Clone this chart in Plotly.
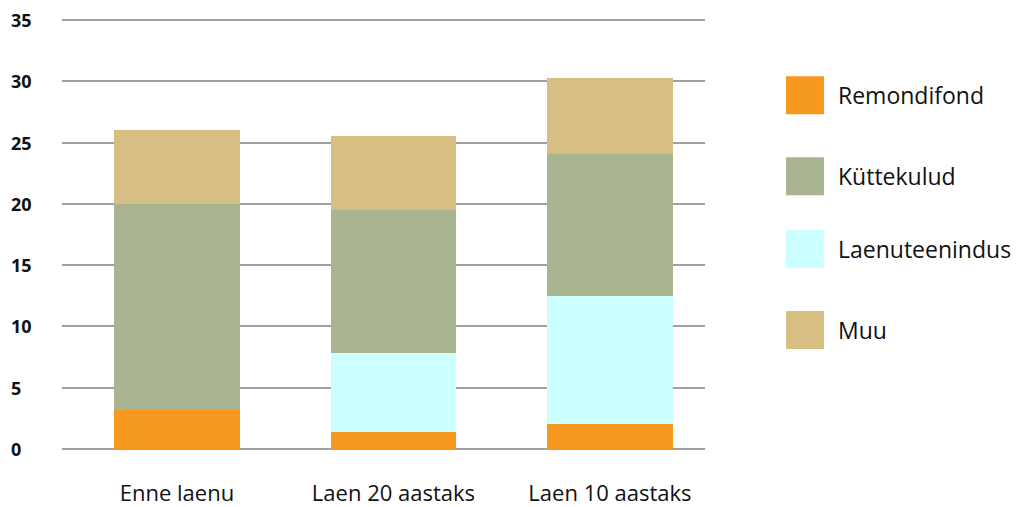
import plotly.graph_objects as go

categories = ["Enne laenu", "Laen 20 aastaks", "Laen 10 aastaks"]
remondifond = [3.2, 1.4, 2.0]
laenuteenindus = [0.0, 6.4, 10.5]
kuttekulud = [16.8, 11.7, 11.6]
muu = [6.0, 6.0, 6.2]

stack_order = [
    ("Remondifond", remondifond, "#F7991F"),
    ("Laenuteenindus", laenuteenindus, "#CCFFFF"),
    ("Küttekulud", kuttekulud, "#A9B491"),
    ("Muu", muu, "#D7BF84"),
]
legend_order = ["Remondifond", "Küttekulud", "Laenuteenindus", "Muu"]
y_ticks = [0, 5, 10, 15, 20, 25, 30, 35]

FONT = "Open Sans, Lato, sans-serif"

fig = go.Figure()
for name, vals, color in stack_order:
    fig.add_trace(go.Bar(
        x=list(range(len(categories))), y=vals, name=name,
        marker=dict(color=color, line=dict(width=0)),
        width=0.58, showlegend=False,
    ))

# Legend drawn as large swatches (plot area is 431 px tall, starting at y=18)
colors = {n: c for n, _, c in stack_order}
legend_y = [0.821, 0.633, 0.464, 0.276]  # paper fractions of swatch centers
for name, yc in zip(legend_order, legend_y):
    fig.add_shape(type="rect", xref="paper", yref="paper",
                  x0=1.126, x1=1.185, y0=yc - 0.0441, y1=yc + 0.0441,
                  fillcolor=colors[name], line=dict(width=0))
    fig.add_annotation(xref="paper", yref="paper", x=1.204, y=yc,
                       text=name, showarrow=False, xanchor="left", yanchor="middle",
                       font=dict(family=FONT, size=23, color="#111111"))

# Left-aligned bold y tick labels
for t in y_ticks:
    fig.add_annotation(xref="paper", yref="y", x=-0.083, y=t, text="<b>%d</b>" % t,
                       showarrow=False, xanchor="left", yanchor="middle",
                       font=dict(family=FONT, size=18, color="#111111"))

fig.update_layout(
    width=1016, height=507,
    margin=dict(l=62, r=311, t=18, b=58, autoexpand=False),
    paper_bgcolor="white", plot_bgcolor="white",
    barmode="stack", bargap=0.4,
    font=dict(family=FONT, color="#111111"),
    xaxis=dict(
        range=[-0.531, 2.439], automargin=False,
        tickmode="array", tickvals=list(range(len(categories))), ticktext=categories,
        tickfont=dict(family=FONT, size=22, color="#111111"),
        showgrid=False, zeroline=False, showline=False, ticks="",
        ticklabelstandoff=29,
    ),
    yaxis=dict(
        range=[0, 35.16], tickvals=y_ticks, showticklabels=False, automargin=False,
        showgrid=True, gridcolor="#A0A0A0", gridwidth=1.5,
        zeroline=True, zerolinecolor="#A0A0A0", zerolinewidth=1.5,
        showline=False, ticks="",
    ),
)

fig.write_html("out.html")
